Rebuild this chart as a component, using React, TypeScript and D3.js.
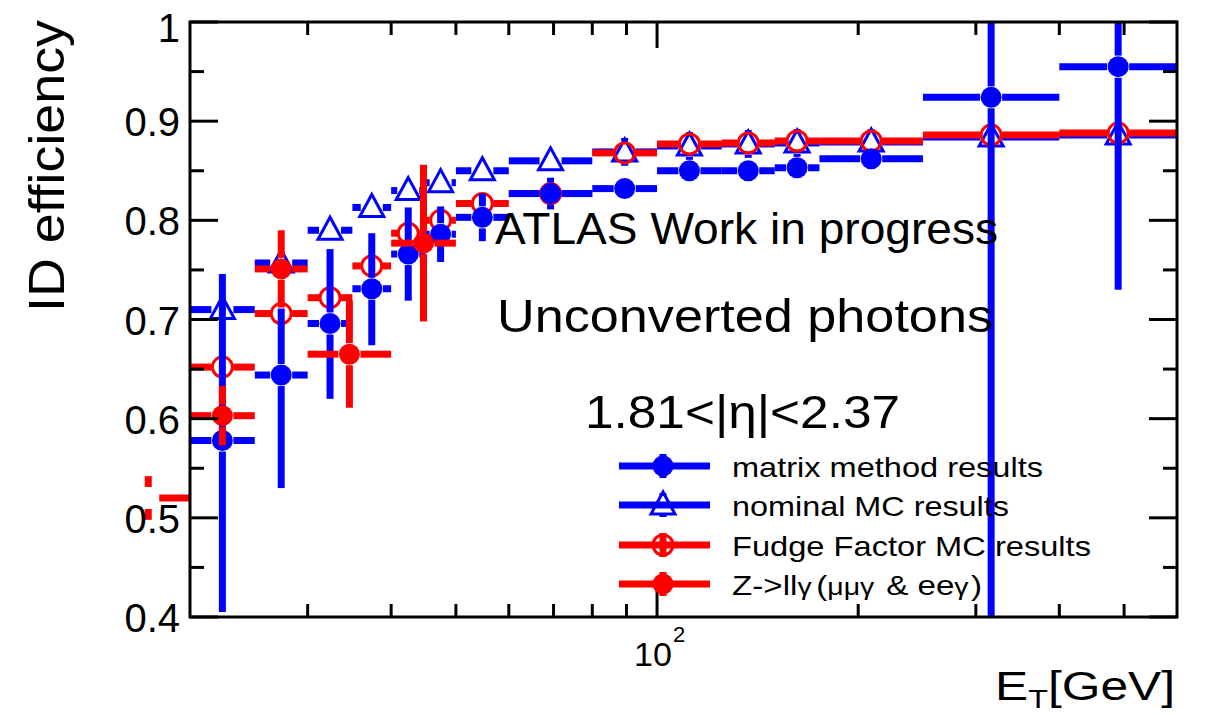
import * as d3 from "d3"

// bin edges in E_T (GeV) shared by the three MC / matrix series
const edges = [20, 25, 30, 35, 40, 45, 50, 60, 80, 100, 125, 150, 175, 250, 400, 600]

const matrixEff = [0.578, 0.644, 0.696, 0.731, 0.766, 0.786, 0.803, 0.827, 0.832, 0.85, 0.85, 0.853, 0.862, 0.924, 0.955]
const matrixErrUp = [0.168, 0.067, 0.075, 0.056, 0.047, 0.028, 0.024, 0.016, 0.008, 0.008, 0.008, 0.008, 0.008, 0.65, 0.225]
const matrixErrDown = [0.173, 0.114, 0.076, 0.057, 0.047, 0.028, 0.024, 0.016, 0.008, 0.008, 0.008, 0.008, 0.008, 0.6, 0.225]

const nominalEff = [0.71, 0.757, 0.79, 0.813, 0.83, 0.838, 0.85, 0.86, 0.869, 0.875, 0.877, 0.878, 0.879, 0.884, 0.886]
const nominalErr = [0.004, 0.004, 0.004, 0.004, 0.004, 0.004, 0.004, 0.006, 0.014, 0.014, 0.014, 0.014, 0.013, 0.01, 0.01]

const fudgeEff = [0.652, 0.706, 0.722, 0.754, 0.787, 0.8, 0.817, 0.827, 0.868, 0.877, 0.878, 0.88, 0.88, 0.886, 0.888]
const fudgeErr = [0.005, 0.005, 0.005, 0.005, 0.005, 0.005, 0.005, 0.005, 0.005, 0.005, 0.005, 0.005, 0.005, 0.005, 0.005]

// Z->llgamma has its own binning (first bin sits below the axis range)
const zEdges = [15, 20, 25, 30, 40, 50]
const zEff = [0.52, 0.603, 0.751, 0.665, 0.777]
const zErr = [0.022, 0.03, 0.039, 0.054, 0.079]

const yMajor = [0.4, 0.5, 0.6, 0.7, 0.8, 0.9, 1.0]
const yMajorLabels = ["0.4", "0.5", "0.6", "0.7", "0.8", "0.9", "1"]
const yMinor = [0.45, 0.55, 0.65, 0.75, 0.85, 0.95]
const xMajor = [100]
const xMinor = [30, 40, 50, 60, 70, 80, 90, 200, 300, 400, 500]

const BLUE = "#0000ff"
const RED = "#ff0000"
const FONT = "'Liberation Sans', Arial, Helvetica, sans-serif"

const W = 1212
const H = 715
const left = 190, right = 1177, top = 22, bottom = 617

const x = d3.scaleLog().domain([20, 600]).range([left, right])
const y = d3.scaleLinear().domain([0.4, 1.0]).range([bottom, top])

const GAP = 11
const LW = 7

type Pt = { lo: number; hi: number; v: number; up: number; dn: number }

function bars(p: Pt, color: string, key: string) {
  const cx = x(Math.sqrt(p.lo * p.hi))
  const cy = y(p.v)
  const xl = x(Math.max(p.lo, 20))
  const xr = x(Math.min(p.hi, 600))
  const yt = y(Math.min(p.v + p.up, 1.0))
  const yb = y(Math.max(p.v - p.dn, 0.4))
  const segs: [number, number, number, number][] = []
  // ROOT leaves the left half off for a bin starting below the axis range
  if (p.lo >= 20 && cx - GAP > xl) segs.push([xl, cy, cx - GAP, cy])
  if (xr > cx + GAP) segs.push([cx + GAP, cy, xr, cy])
  if (yt < cy - GAP) segs.push([cx, yt, cx, cy - GAP])
  if (yb > cy + GAP) segs.push([cx, cy + GAP, cx, yb])
  return segs.map((s, i) => (
    <line key={key + i} x1={s[0]} y1={s[1]} x2={s[2]} y2={s[3]} stroke={color} strokeWidth={LW} />
  ))
}

function marker(kind: string, cx: number, cy: number, color: string, key: string) {
  if (kind === "filled") return <circle key={key} cx={cx} cy={cy} r={10.5} fill={color} />
  if (kind === "open") return <circle key={key} cx={cx} cy={cy} r={10} fill="none" stroke={color} strokeWidth={3} />
  const pts = [[cx, cy - 13], [cx - 12, cy + 9], [cx + 12, cy + 9]].map(p => p.join(",")).join(" ")
  return <polygon key={key} points={pts} fill="none" stroke={color} strokeWidth={3} />
}

function series(ed: number[], vals: number[], up: number[], dn: number[], color: string, kind: string, name: string) {
  return vals.map((v, i) => {
    const p = { lo: ed[i], hi: ed[i + 1], v, up: up[i], dn: dn[i] }
    const inside = p.lo >= 20
    return (
      <g key={name + i}>
        {bars(p, color, name + "b" + i)}
        {inside && marker(kind, x(Math.sqrt(p.lo * p.hi)), y(v), color, name + "m" + i)}
      </g>
    )
  })
}

const legendRows = [
  { label: "matrix method results", color: BLUE, kind: "filled", y: 466, len: 311 },
  { label: "nominal MC results", color: BLUE, kind: "tri", y: 505, len: 277 },
  { label: "Fudge Factor MC results", color: RED, kind: "open", y: 545, len: 359 },
]

export default function App() {
  return (
    <svg width={W} height={H} style={{ position: "absolute", left: 0, top: 0, background: "#fff" }} fontFamily={FONT}>
      {/* data: nominal, fudge, matrix, Z in ROOT draw order */}
      {series(edges, nominalEff, nominalErr, nominalErr, BLUE, "tri", "nom")}
      {series(edges, fudgeEff, fudgeErr, fudgeErr, RED, "open", "ff")}
      {series(edges, matrixEff, matrixErrUp, matrixErrDown, BLUE, "filled", "mm")}
      {series(zEdges, zEff, zErr, zErr, RED, "filled", "z")}

      {/* frame */}
      <rect x={left} y={top} width={right - left} height={bottom - top} fill="none" stroke="#000" strokeWidth={3} />

      {/* y ticks, both sides */}
      {yMajor.map(t => (
        <g key={"ym" + t}>
          <line x1={left} x2={left + 28} y1={y(t)} y2={y(t)} stroke="#000" strokeWidth={3} />
          <line x1={right} x2={right - 28} y1={y(t)} y2={y(t)} stroke="#000" strokeWidth={3} />
        </g>
      ))}
      {yMinor.map(t => (
        <g key={"yn" + t}>
          <line x1={left} x2={left + 14} y1={y(t)} y2={y(t)} stroke="#000" strokeWidth={3} />
          <line x1={right} x2={right - 14} y1={y(t)} y2={y(t)} stroke="#000" strokeWidth={3} />
        </g>
      ))}
      {yMajor.map((t, i) => (
        <text key={"yl" + t} x={180} y={y(t) + (t === 1 ? 20 : 15)} textAnchor="end" fontSize={40}>{yMajorLabels[i]}</text>
      ))}

      {/* x ticks, both sides */}
      {xMajor.map(t => (
        <g key={"xm" + t}>
          <line x1={x(t)} x2={x(t)} y1={bottom} y2={bottom - 26} stroke="#000" strokeWidth={3} />
          <line x1={x(t)} x2={x(t)} y1={top} y2={top + 26} stroke="#000" strokeWidth={3} />
        </g>
      ))}
      {xMinor.map(t => (
        <g key={"xn" + t}>
          <line x1={x(t)} x2={x(t)} y1={bottom} y2={bottom - 13} stroke="#000" strokeWidth={3} />
          <line x1={x(t)} x2={x(t)} y1={top} y2={top + 13} stroke="#000" strokeWidth={3} />
        </g>
      ))}
      <text x={x(100) - 23} y={666} fontSize={34}>10</text>
      <text x={x(100) + 16} y={642} fontSize={22}>2</text>

      {/* axis titles */}
      <text transform="translate(64,166) rotate(-90)" textAnchor="middle" fontSize={50} textLength={292} lengthAdjust="spacingAndGlyphs">ID efficiency</text>
      <text x={995} y={700} fontSize={40} textLength={180} lengthAdjust="spacingAndGlyphs">
        E<tspan fontSize={26} dy={8}>T</tspan><tspan dy={-8}>[GeV]</tspan>
      </text>

      {/* labels */}
      <text x={495} y={244} fontSize={44} textLength={503} lengthAdjust="spacingAndGlyphs">ATLAS Work in progress</text>
      <text x={497} y={332} fontSize={46} textLength={496} lengthAdjust="spacingAndGlyphs">Unconverted photons</text>
      <text x={585} y={428} fontSize={46} textLength={315} lengthAdjust="spacingAndGlyphs">1.81&lt;|η|&lt;2.37</text>

      {/* legend */}
      {[...legendRows, { label: "", color: RED, kind: "filled", y: 584, len: 0 }].map((r, i) => (
        <g key={"lg" + i}>
          <line x1={619} x2={710} y1={r.y} y2={r.y} stroke={r.color} strokeWidth={LW} />
          <line x1={663} x2={663} y1={r.y - 12} y2={r.y + 12} stroke={r.color} strokeWidth={LW} />
          {r.kind === "tri" && <rect x={651} y={r.y - 9} width={24} height={18} fill="#fff" />}
          {r.kind === "tri" && <line x1={651} x2={675} y1={r.y} y2={r.y} stroke={r.color} strokeWidth={LW} />}
          {marker(r.kind, 663, r.y, r.color, "lm" + i)}
          {r.label && (
            <text x={732} y={r.y + 11} fontSize={28} textLength={r.len} lengthAdjust="spacingAndGlyphs">{r.label}</text>
          )}
        </g>
      ))}
      <text x={732} y={595} fontSize={28} textLength={250} lengthAdjust="spacingAndGlyphs">
        Z-&gt;ll<tspan fontSize={24}>γ</tspan>
        <tspan dx={4}>(</tspan>
        <tspan fontSize={24}>μμγ</tspan>
        <tspan dx={10}>&amp; ee</tspan>
        <tspan fontSize={24}>γ</tspan>
        <tspan dx={2}>)</tspan>
      </text>
    </svg>
  )
}
